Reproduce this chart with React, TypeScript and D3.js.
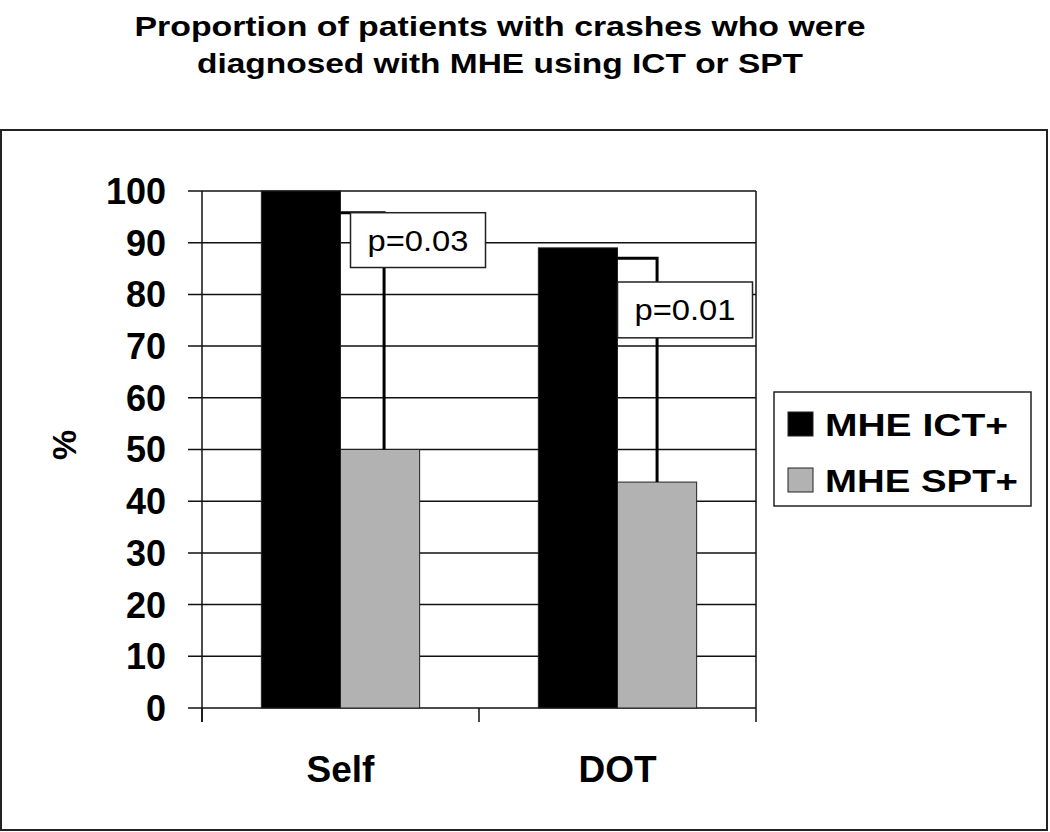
import React from "react";
import * as d3 from "d3";

const categories = ["Self", "DOT"];
const series = ["MHE ICT+", "MHE SPT+"];
const ictValues = [100, 89];
const sptValues = [50, 43.7];
const pLabels = ["p=0.03", "p=0.01"];
// bracket heights (%) and label box top/bottom (%)
const bracketLevels = [95.8, 87];
const boxTops = [95.8, 82.4];
const boxBottoms = [85.2, 71.6];
const yTicks = [0, 10, 20, 30, 40, 50, 60, 70, 80, 90, 100];
const colors = ["#000000", "#b2b2b2"];

const W = 1050, H = 832;
const font = "'Liberation Sans', Arial, sans-serif";

const App = () => {
  const x = d3.scaleBand().domain(categories).range([202, 756]);
  const x1 = d3.scaleBand().domain(series).range([0, x.bandwidth()]).paddingOuter(0.75);
  const y = d3.scaleLinear().domain([0, 100]).range([708, 191]);

  const values = [ictValues, sptValues];

  return (
    <svg width={W} height={H} style={{ position: "absolute", left: 0, top: 0 }} fontFamily={font}>
      <rect x={0} y={0} width={W} height={H} fill="#fff" />

      {/* title */}
      <text x={500} y={36} textAnchor="middle" fontSize={28} fontWeight="bold"
        textLength={731} lengthAdjust="spacingAndGlyphs">
        Proportion of patients with crashes who were
      </text>
      <text x={500} y={73} textAnchor="middle" fontSize={28} fontWeight="bold"
        textLength={606} lengthAdjust="spacingAndGlyphs">
        diagnosed with MHE using ICT or SPT
      </text>

      {/* outer frame */}
      <rect x={1} y={130} width={1046} height={700} fill="none" stroke="#222" strokeWidth={2} />

      {/* gridlines */}
      {yTicks.map((t) => (
        <line key={t} x1={188} x2={756} y1={y(t)} y2={y(t)} stroke="#111" strokeWidth={1.5} />
      ))}
      <line x1={756} x2={756} y1={y(100)} y2={722} stroke="#111" strokeWidth={1.5} />
      <line x1={202} x2={202} y1={y(100)} y2={722} stroke="#111" strokeWidth={1.5} />
      {categories.map((c) => (
        <line key={c} x1={(x(c) as number)} x2={(x(c) as number)} y1={y(0)} y2={722} stroke="#111" strokeWidth={1.5} />
      ))}

      {/* y tick labels */}
      {yTicks.map((t) => (
        <text key={t} x={166} y={y(t)} dy="0.36em" textAnchor="end" fontSize={36} fontWeight="bold">
          {t}
        </text>
      ))}
      <text transform="translate(76,445) rotate(-90)" textAnchor="middle" fontSize={34} fontWeight="bold">
        %
      </text>

      {/* bars */}
      {categories.map((c, i) =>
        series.map((s, j) => (
          <rect key={c + s}
            x={(x(c) as number) + (x1(s) as number)}
            y={y(values[j][i])}
            width={x1.bandwidth()}
            height={y(0) - y(values[j][i])}
            fill={colors[j]} stroke="#222" strokeWidth={1} />
        ))
      )}

      {/* significance brackets */}
      {categories.map((c, i) => {
        const x0 = (x(c) as number) + (x1(series[0]) as number) + x1.bandwidth();
        const xv = (x(c) as number) + (x1(series[1]) as number) + x1.bandwidth() / 2 + (i === 0 ? 4 : 0);
        const yb = y(bracketLevels[i]);
        const boxL = i === 0 ? x0 + 10 : x0;
        const boxR = boxL + 135;
        return (
          <g key={c}>
            <path d={`M${x0},${yb}H${xv}V${y(sptValues[i])}`} fill="none" stroke="#000" strokeWidth={3} />
            <rect x={boxL} y={y(boxTops[i])} width={boxR - boxL} height={y(boxBottoms[i]) - y(boxTops[i])}
              fill="#fff" stroke="#222" strokeWidth={1.5} />
            <text x={(boxL + boxR) / 2} y={(y(boxTops[i]) + y(boxBottoms[i])) / 2} dy="0.36em"
              textAnchor="middle" fontSize={29} textLength={101} lengthAdjust="spacingAndGlyphs">
              {pLabels[i]}
            </text>
          </g>
        );
      })}

      {/* x labels */}
      {categories.map((c) => (
        <text key={c} x={(x(c) as number) + x.bandwidth() / 2} y={782} textAnchor="middle"
          fontSize={37} fontWeight="bold">
          {c}
        </text>
      ))}

      {/* legend */}
      <rect x={774} y={392} width={257} height={114} fill="#fff" stroke="#222" strokeWidth={1.5} />
      {series.map((s, j) => (
        <g key={s} transform={`translate(788,${412 + j * 56})`}>
          <rect x={0} y={0} width={25} height={24} fill={colors[j]} stroke="#222" strokeWidth={1} />
          <text x={37} y={24} fontSize={31} fontWeight="bold"
            textLength={j === 0 ? 183 : 193} lengthAdjust="spacingAndGlyphs">
            {s}
          </text>
        </g>
      ))}
    </svg>
  );
};

export default App;
